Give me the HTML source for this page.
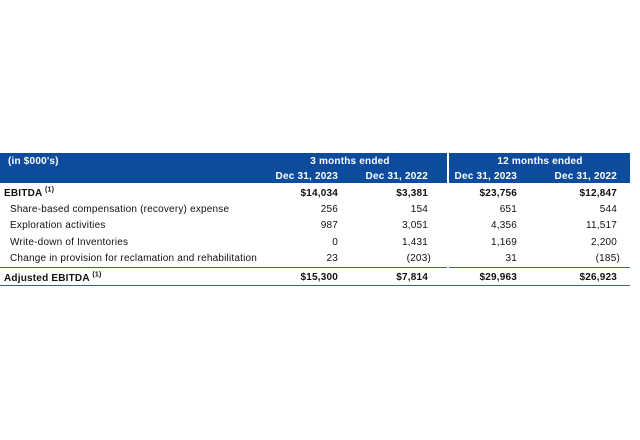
<!DOCTYPE html>
<html><head><meta charset="utf-8"><style>
body{margin:0;width:640px;height:440px;background:#fff;font-family:"Liberation Sans",Arial,sans-serif;font-size:10px;letter-spacing:0.2px;color:#111;position:relative;overflow:hidden}
.a{position:absolute;white-space:nowrap;line-height:12px}
.r{text-align:right}
.b{font-weight:bold}
.hd{position:absolute;background:#0d4c9c}
.w{color:#fff;font-weight:bold}
sup{font-size:7px;line-height:0}
</style></head><body>
<div class="hd" style="left:0;top:153px;width:447px;height:30px"></div>
<div class="hd" style="left:449px;top:153px;width:181px;height:30px"></div>
<div class="a w" style="left:8px;top:156px">(in $000's)</div>
<div class="a w" style="left:255px;width:190px;text-align:center;top:156px">3 months ended</div>
<div class="a w" style="left:450px;width:180px;text-align:center;top:156px">12 months ended</div>
<div class="a w r" style="right:302px;top:171px">Dec 31, 2023</div>
<div class="a w r" style="right:212px;top:171px">Dec 31, 2022</div>
<div class="a w r" style="right:123px;top:171px">Dec 31, 2023</div>
<div class="a w r" style="right:23px;top:171px">Dec 31, 2022</div>

<div>
<div class="a b" style="left:4px;top:188px">EBITDA <sup>(1)</sup></div>
<div class="a b r" style="right:302px;top:188px">$14,034</div>
<div class="a b r" style="right:212px;top:188px">$3,381</div>
<div class="a b r" style="right:123px;top:188px">$23,756</div>
<div class="a b r" style="right:23px;top:188px">$12,847</div>

<div class="a" style="left:10px;top:204px">Share-based compensation (recovery) expense</div>
<div class="a r" style="right:302px;top:204px">256</div>
<div class="a r" style="right:212px;top:204px">154</div>
<div class="a r" style="right:123px;top:204px">651</div>
<div class="a r" style="right:23px;top:204px">544</div>

<div class="a" style="left:10px;top:220px">Exploration activities</div>
<div class="a r" style="right:302px;top:220px">987</div>
<div class="a r" style="right:212px;top:220px">3,051</div>
<div class="a r" style="right:123px;top:220px">4,356</div>
<div class="a r" style="right:23px;top:220px">11,517</div>

<div class="a" style="left:10px;top:237px">Write-down of Inventories</div>
<div class="a r" style="right:302px;top:237px">0</div>
<div class="a r" style="right:212px;top:237px">1,431</div>
<div class="a r" style="right:123px;top:237px">1,169</div>
<div class="a r" style="right:23px;top:237px">2,200</div>

<div class="a" style="left:10px;top:253px">Change in provision for reclamation and rehabilitation</div>
<div class="a r" style="right:302px;top:253px">23</div>
<div class="a r" style="right:209px;top:253px">(203)</div>
<div class="a r" style="right:123px;top:253px">31</div>
<div class="a r" style="right:20px;top:253px">(185)</div>

<div style="position:absolute;left:0;top:267px;width:447px;height:1px;background:#3a5f9a"></div>
<div style="position:absolute;left:449px;top:267px;width:181px;height:1px;background:#3a5f9a"></div>

<div class="a b" style="left:4px;top:273px">Adjusted EBITDA <sup>(1)</sup></div>
<div class="a b r" style="right:302px;top:272px">$15,300</div>
<div class="a b r" style="right:212px;top:272px">$7,814</div>
<div class="a b r" style="right:123px;top:272px">$29,963</div>
<div class="a b r" style="right:23px;top:272px">$26,923</div>

<div style="position:absolute;left:0;top:285px;width:630px;height:1px;background:#3a5f9a"></div>
</div>
</body></html>
